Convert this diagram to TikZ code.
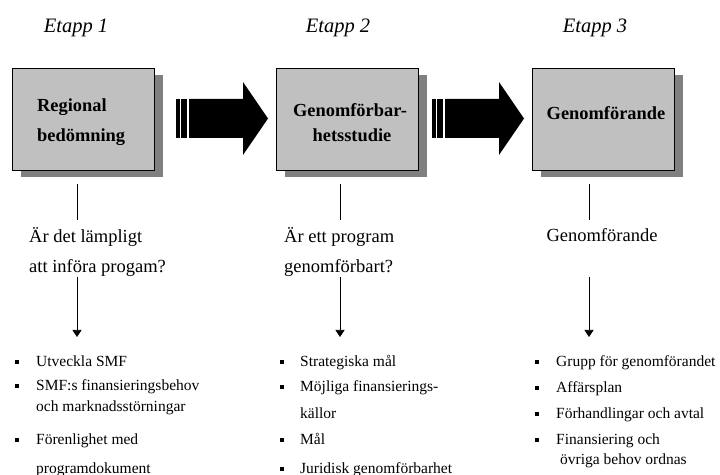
\documentclass[tikz,border=0pt]{standalone}
\usepackage{fontspec}
\setmainfont{Liberation Serif}
\usetikzlibrary{arrows.meta,shadows}
\definecolor{boxgray}{RGB}{192,192,192}
\definecolor{shadegray}{RGB}{128,128,128}

\begin{document}
\begin{tikzpicture}[x=1bp,y=-1bp,
  stagebox/.style={draw=black, line width=0.8bp, fill=boxgray,
    minimum width=142bp, minimum height=102bp, inner sep=0pt,
    drop shadow={shadow xshift=9bp, shadow yshift=-7bp, fill=shadegray, opacity=1}},
  etapp/.style={inner sep=0pt, anchor=base, font=\fontsize{20.5bp}{24bp}\selectfont\itshape},
  boxtxt/.style={inner sep=0pt, font=\fontsize{18.4bp}{21bp}\selectfont\bfseries},
  question/.style={inner sep=0pt, anchor=base west, font=\fontsize{18.5bp}{22bp}\selectfont},
  item/.style={inner sep=0pt, anchor=base west, font=\fontsize{15.5bp}{18bp}\selectfont},
  bul/.style={fill=black, inner sep=0pt, minimum size=4.5bp},
  link/.style={line width=0.6bp},
  flow/.style={line width=0.6bp, -{Triangle[width=9bp,length=7bp]}},
  bigarrow/.style={fill=black}
]
\useasboundingbox (0,0) rectangle (720,475);

% stage headings
\node[etapp] (e1) at (76,33) {Etapp 1};
\node[etapp] (e2) at (338,33) {Etapp 2};
\node[etapp] (e3) at (595,33) {Etapp 3};

% stage boxes
\node[stagebox] (b1) at (83,119) {};
\node[stagebox] (b2) at (347,119) {};
\node[stagebox] (b3) at (603,119) {};

\node[boxtxt, anchor=base west] (b1a) at (37,112) {Regional};
\node[boxtxt, anchor=base west] (b1b) at (37,142) {bedömning};
\node[boxtxt, anchor=base] (b2a) at (350,117) {Genomförbar-};
\node[boxtxt, anchor=base] (b2b) at (352,142) {hetsstudie};
\node[boxtxt, anchor=base] (b3a) at (606,120) {Genomförande};

% block arrows between the stages
\foreach \dx in {0, 256}{
  \begin{scope}[shift={(\dx,0)}]
    \fill[bigarrow] (176,99) rectangle (180,138);
    \fill[bigarrow] (181,99) rectangle (187,138);
    \fill[bigarrow] (189,99) -- (243,99) -- (243,82) -- (268,118.5)
      -- (243,155) -- (243,138) -- (189,138) -- cycle;
  \end{scope}
}

% questions under each stage
\node[question] (q1a) at (29,243) {Är det lämpligt};
\node[question] (q1b) at (29,273) {att införa progam?};
\node[question] (q2a) at (284,243) {Är ett program};
\node[question] (q2b) at (284,273) {genomförbart?};
\node[question, anchor=base] (q3a) at (602,242) {Genomförande};

% connector end points
\foreach \x/\c in {77/1, 340/2, 589/3}{
  \coordinate (top\c) at (\x,184);
  \coordinate (mid\c) at (\x,220);
  \coordinate (low\c) at (\x,277);
  \coordinate (end\c) at (\x,337);
}
\foreach \c in {1,2,3}{
  \draw[link] (top\c) -- (mid\c);
  \draw[flow] (low\c) -- (end\c);
}

% column 1 list
\node[bul] (p11) at (17,362) {};
\node[item] (i11) at (36,366) {Utveckla SMF};
\node[bul] (p12) at (17,386) {};
\node[item] (i12) at (36,390) {SMF:s finansieringsbehov};
\node[item] (i12b) at (36,411) {och marknadsstörningar};
\node[bul] (p13) at (17,440) {};
\node[item] (i13) at (36,444) {Förenlighet med};
\node[item] (i13b) at (36,473) {programdokument};

% column 2 list
\node[bul] (p21) at (282,362) {};
\node[item] (i21) at (300,366) {Strategiska mål};
\node[bul] (p22) at (282,387) {};
\node[item] (i22) at (300,391) {Möjliga finansierings-};
\node[item] (i22b) at (300,418) {källor};
\node[bul] (p23) at (282,440) {};
\node[item] (i23) at (300,444) {Mål};
\node[bul] (p24) at (282,469) {};
\node[item] (i24) at (300,473) {Juridisk genomförbarhet};

% column 3 list
\node[bul] (p31) at (537,362) {};
\node[item] (i31) at (556,366) {Grupp för genomförandet};
\node[bul] (p32) at (537,388) {};
\node[item] (i32) at (556,392) {Affärsplan};
\node[bul] (p33) at (537,414) {};
\node[item] (i33) at (556,418) {Förhandlingar och avtal};
\node[bul] (p34) at (537,440) {};
\node[item] (i34) at (556,444) {Finansiering och};
\node[item] (i34b) at (560,464) {övriga behov ordnas};
\end{tikzpicture}
\end{document}
